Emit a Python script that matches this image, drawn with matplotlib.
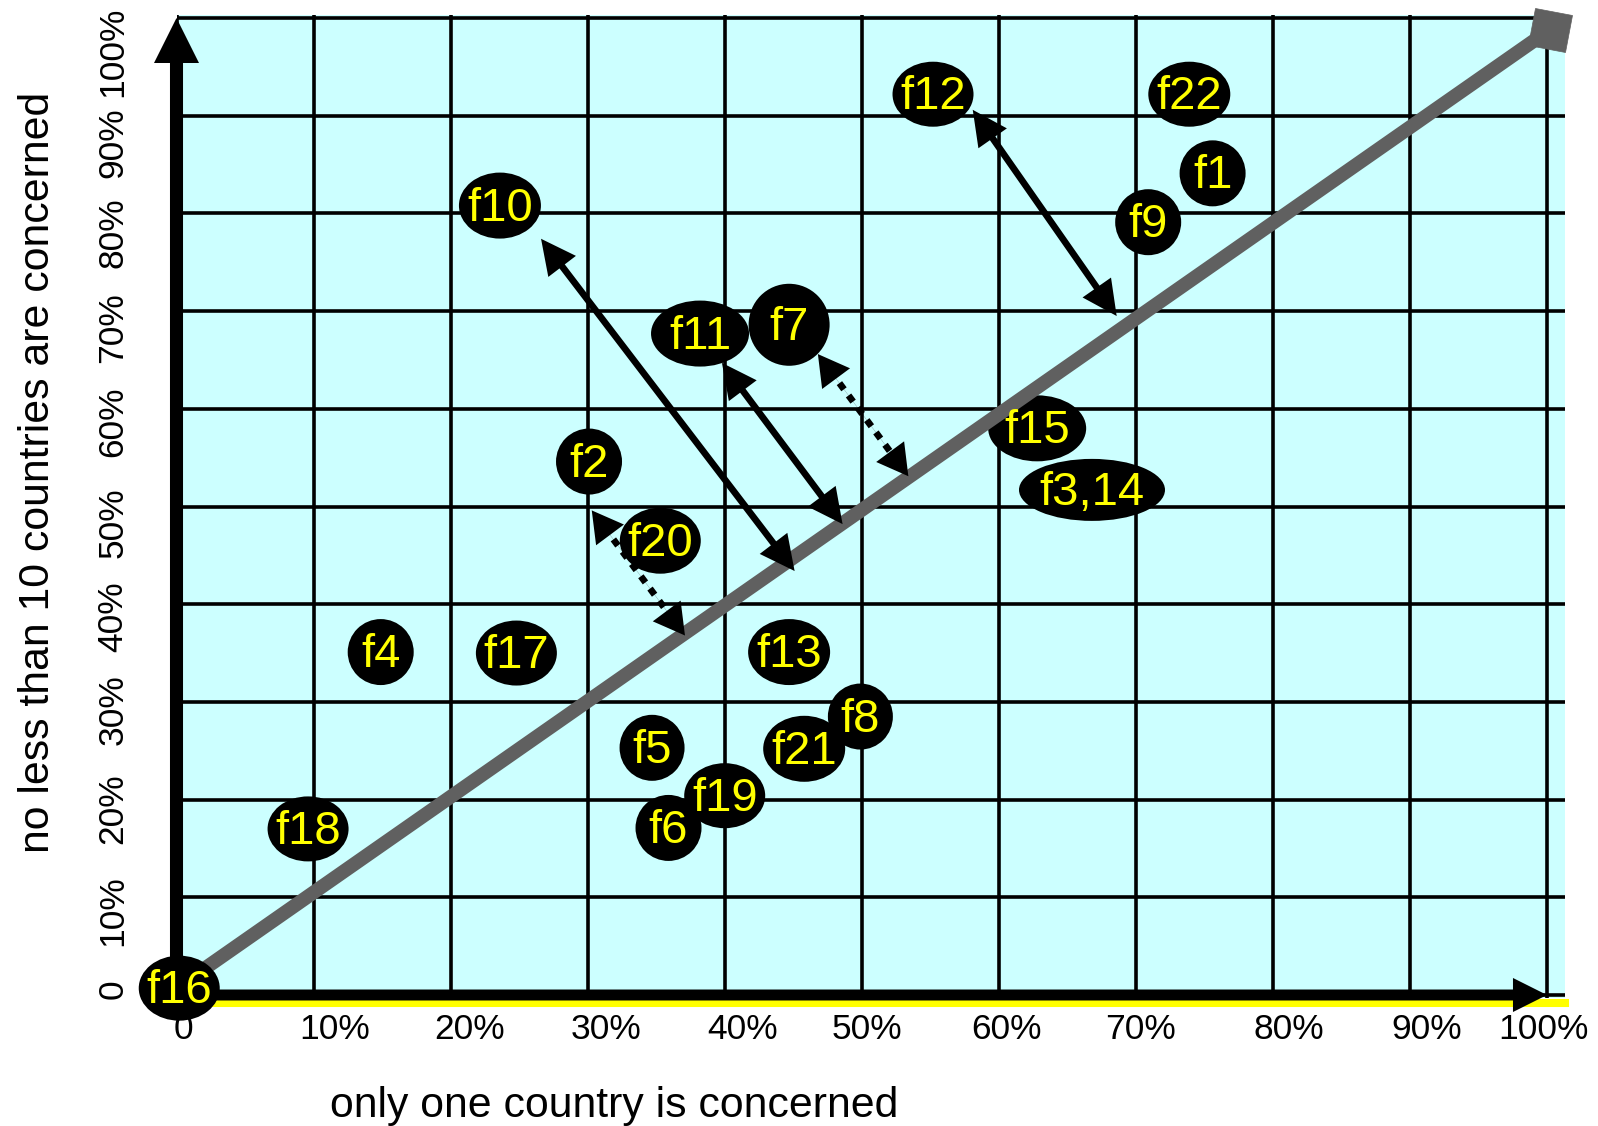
import matplotlib
matplotlib.use("Agg")
import matplotlib.pyplot as plt
from matplotlib.patches import Ellipse, FancyArrowPatch, ArrowStyle
from matplotlib.transforms import ScaledTranslation, Affine2D
from matplotlib.markers import MarkerStyle
from matplotlib.lines import Line2D

plt.rcParams['font.family'] = ['Liberation Sans', 'DejaVu Sans']

# ---------------- data ----------------
labels = ['f12', 'f22', 'f1', 'f9', 'f10', 'f11', 'f7', 'f2', 'f20', 'f15', 'f3,14',
          'f4', 'f17', 'f13', 'f8', 'f21', 'f5', 'f19', 'f6', 'f18', 'f16']
x_vals = [55.2, 73.9, 75.6, 70.9, 23.6, 38.2, 44.7, 30.1, 35.3, 62.8, 66.8,
          14.9, 24.8, 44.7, 49.9, 45.8, 34.7, 40.0, 35.9, 9.6, 0.2]
y_vals = [92.2, 92.2, 84.1, 79.1, 80.8, 67.7, 68.6, 54.6, 46.5, 58.0, 51.7,
          35.1, 35.0, 35.1, 28.5, 25.2, 25.3, 20.4, 17.1, 17.0, 0.7]

# double-headed arrows (start / end), solid or dotted
arrow_x0 = [26.6, 39.8, 58.1, 46.8, 30.3]
arrow_y0 = [77.4, 64.7, 90.6, 65.6, 49.6]
arrow_x1 = [45.1, 48.6, 68.6, 53.4, 37.1]
arrow_y1 = [43.4, 48.2, 69.5, 53.1, 36.8]
arrow_dotted = [False, False, False, True, True]

# diagonal reference line
diag_x = [0.0, 100.2]
diag_y = [0.7, 98.8]

tick_values = [0, 10, 20, 30, 40, 50, 60, 70, 80, 90, 100]
x_tick_labels = ['0', '10%', '20%', '30%', '40%', '50%', '60%', '70%', '80%', '90%', '100%']
y_tick_labels = ['0', '10%', '20%', '30%', '40%', '50%', '60%', '70%', '80%', '90%', '100%']

x_label = 'only one country is concerned'
y_label = 'no less than 10 countries are concerned'

# ---------------- style / layout ----------------
W, H, DPI = 1598, 1126, 100
CYAN = '#ccffff'
GREY = '#606060'
YELLOW = '#ffff00'

bubble_size_px = {
    'f12': (81, 65), 'f22': (82, 65), 'f1': (66, 66), 'f9': (66, 66),
    'f10': (82, 66), 'f11': (98, 66), 'f7': (81, 82), 'f2': (66, 66),
    'f20': (81, 66), 'f15': (98, 66), 'f3,14': (146, 62), 'f4': (66, 66),
    'f17': (81, 65), 'f13': (82, 66), 'f8': (65, 66), 'f21': (82, 66),
    'f5': (65, 66), 'f19': (81, 65), 'f6': (66, 66), 'f18': (81, 65),
    'f16': (81, 65),
}
behind_line = {'f15'}

# per-label pixel nudges of the tick labels (layout only)
x_label_dx = [7, 21, 19, 18, 18, 5, 8, 5, 16, 17, -4]
y_label_dy = [-6, 13, 9, 8, 12, 16, 13, 17, 19, 27, 34]

fig = plt.figure(figsize=(W / DPI, H / DPI), dpi=DPI)
fig.patch.set_facecolor('white')

x0_px, x100_px = 176.5, 1547.0
y0_px, y100_px = 995.0, 18.0
right_px, top_px, bottom_px = 1565.0, 15.0, 998.0
sx = (x100_px - x0_px) / 100.0
sy = (y0_px - y100_px) / 100.0

ax = fig.add_axes([x0_px / W, 1 - bottom_px / H, (right_px - x0_px) / W, (bottom_px - top_px) / H])
ax.set_xlim(0, (right_px - x0_px) / sx)
ax.set_ylim((y0_px - bottom_px) / sy, (y0_px - top_px) / sy)
ax.set_facecolor(CYAN)
for s in ax.spines.values():
    s.set_visible(False)

ax.set_xticks(tick_values, x_tick_labels)
ax.set_yticks(tick_values, y_tick_labels)
ax.tick_params(length=0, labelsize=25.5, colors='black')
ax.tick_params(axis='x', pad=11)
ax.tick_params(axis='y', pad=34, labelrotation=90)
ax.set_axisbelow(True)
ax.grid(True, color='black', linewidth=2.6)

# yellow stripe under the x axis
ax.add_line(Line2D([0, 1], [0, 0], color=YELLOW, lw=5.8, clip_on=False, zorder=2.6,
                   transform=ax.transAxes + ScaledTranslation(0, -5 / DPI, fig.dpi_scale_trans)))

# axis arrows
ax.add_patch(FancyArrowPatch((0, 0), (0, 100),
                             arrowstyle=ArrowStyle('simple', head_length=32.4, head_width=32.4, tail_width=9.4),
                             mutation_scale=1, shrinkA=0, shrinkB=0, color='black', lw=0,
                             clip_on=False, zorder=2.8))
ax.add_patch(FancyArrowPatch((0, 0), (100, 0),
                             arrowstyle=ArrowStyle('simple', head_length=24.5, head_width=24.5, tail_width=7.9),
                             mutation_scale=1, shrinkA=0, shrinkB=0, color='black', lw=0,
                             clip_on=False, zorder=2.8))

# diagonal line with square end
ax.plot(diag_x, diag_y, color=GREY, lw=10, solid_capstyle='butt', zorder=2.5, clip_on=False)
ax.plot(diag_x[-1:], diag_y[-1:], linestyle='none',
        marker=MarkerStyle('s', transform=Affine2D().rotate_deg(-10)),
        ms=27, color=GREY, mec=GREY, mew=0.5, zorder=2.5, clip_on=False)

# bubbles
text_shift = ScaledTranslation(0, -3 / DPI, fig.dpi_scale_trans)
for lab, x, y in zip(labels, x_vals, y_vals):
    w, h = bubble_size_px[lab]
    z = 2.4 if lab in behind_line else 3
    e = Ellipse((0, 0), w / DPI, h / DPI,
                transform=fig.dpi_scale_trans + ScaledTranslation(x, y, ax.transData),
                facecolor='black', edgecolor='none', zorder=z, clip_on=False)
    ax.add_patch(e)
    ax.text(x, y, lab, color=YELLOW, fontsize=34, ha='center', va='center',
            zorder=6, clip_on=False, transform=ax.transData + text_shift)

# double-headed arrows
head = ArrowStyle('simple', head_length=25, head_width=25, tail_width=0.05)
head_dot = ArrowStyle('simple', head_length=22, head_width=25, tail_width=0.05)
for x0, y0, x1, y1, dotted in zip(arrow_x0, arrow_y0, arrow_x1, arrow_y1, arrow_dotted):
    ls = (0, (1.15, 1.15)) if dotted else '-'
    hs = head_dot if dotted else head
    shaft = FancyArrowPatch((x0, y0), (x1, y1), arrowstyle='-', shrinkA=15, shrinkB=15,
                            lw=4.8, linestyle=ls, color='black', capstyle='butt', zorder=5)
    ax.add_patch(shaft)
    for pa, pb in (((x1, y1), (x0, y0)), ((x0, y0), (x1, y1))):
        ax.add_patch(FancyArrowPatch(pa, pb, arrowstyle=hs, mutation_scale=1,
                                     shrinkA=0, shrinkB=0, color='black', lw=0, zorder=5))

# axis titles
fig.text(614 / W, 1 - 1117 / H, x_label, fontsize=30.8, ha='center', va='baseline')
fig.text(38 / W, 1 - 472 / H, y_label, fontsize=30.8, rotation=90, ha='center', va='center')

# tick label alignment and nudges (done last)
for lab, dx in zip(ax.get_xticklabels(), x_label_dx):
    lab.set_transform(lab.get_transform() + ScaledTranslation(dx / DPI, 0, fig.dpi_scale_trans))
for lab, dy in zip(ax.get_yticklabels(), y_label_dy):
    lab.set_ha('right')
    lab.set_va('center')
    lab.set_transform(lab.get_transform() + ScaledTranslation(0, -dy / DPI, fig.dpi_scale_trans))

fig.savefig('out.png', dpi=DPI, facecolor='white')
